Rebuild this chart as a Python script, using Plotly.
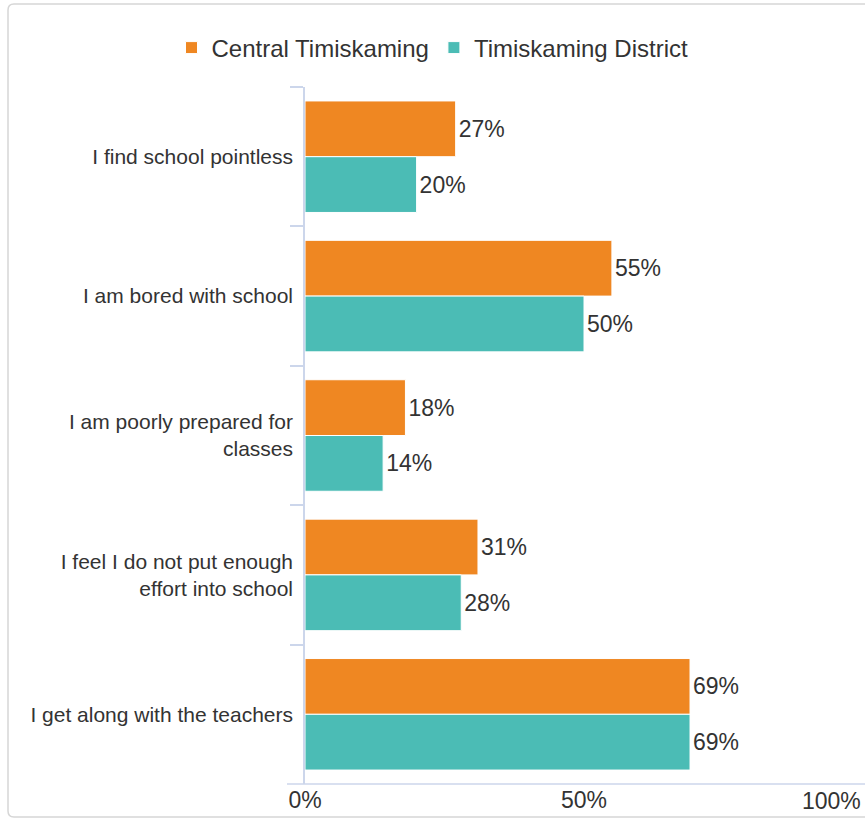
import plotly.graph_objects as go

categories = [
    "I find school pointless",
    "I am bored with school",
    "I am poorly prepared for<br>classes",
    "I feel I do not put enough<br>effort into school",
    "I get along with the teachers",
]
central = [27, 55, 18, 31, 69]
district = [20, 50, 14, 28, 69]
series_names = ["Central Timiskaming", "Timiskaming District"]
tick_vals = [0, 50]
tick_text = ["0%", "50%"]
last_tick_val = 100
last_tick_text = "100%"

W, H = 865, 821
L, R, T, B = 305, 2, 87, 37
pw, ph = W - L - R, H - T - B


def px2paper(x, y):
    return (x - L) / pw, (H - B - y) / ph


fig = go.Figure()
for name, vals, col in [(series_names[0], central, "#EF8722"),
                        (series_names[1], district, "#4BBCB5")]:
    fig.add_trace(go.Bar(
        y=categories, x=vals, name=name, orientation="h",
        marker=dict(color=col, line=dict(color="#ffffff", width=1)),
        text=[f"{v}%" for v in vals], textposition="outside",
        textfont=dict(size=23, color="#333333"),
        cliponaxis=False, hoverinfo="x+y+name",
    ))

# rounded border path
x0, y0 = px2paper(8, 4)
x1, y1 = px2paper(890, 817)
rx, ry = 6 / pw, 6 / ph
path = (f"M {x1},{y0} L {x0+rx},{y0} Q {x0},{y0} {x0},{y0-ry} "
        f"L {x0},{y1+ry} Q {x0},{y1} {x0+rx},{y1} L {x1},{y1}")
ax0, ay = px2paper(287, 784)
ax1, _ = px2paper(866, 784)

fig.update_layout(
    width=W, height=H, autosize=False,
    margin=dict(l=L, r=R, t=T, b=B),
    paper_bgcolor="white", plot_bgcolor="white",
    font=dict(family="Liberation Sans, Arial, sans-serif", color="#333333"),
    barmode="group", bargap=0.2, bargroupgap=0,
    showlegend=True,
    legend=dict(orientation="h", x=0.5, xanchor="center", xref="container",
                y=(H - 48) / H, yanchor="middle", yref="container",
                font=dict(size=24, color="#333333"),
                bgcolor="rgba(0,0,0,0)", itemclick=False, traceorder="normal"),
    xaxis=dict(range=[0, 100], tickvals=tick_vals, ticktext=tick_text,
               showgrid=False, zeroline=False, showline=False, ticks="",
               tickfont=dict(size=23, color="#333333"), fixedrange=True),
    yaxis=dict(autorange="reversed", type="category",
               tickson="boundaries", ticks="outside", ticklen=13,
               tickcolor="#ccd6eb", tickwidth=1.5,
               showline=True, linecolor="#ccd6eb", linewidth=1.5,
               showgrid=False, zeroline=False, ticklabelstandoff=6,
               tickfont=dict(size=21, color="#333333"), fixedrange=True),
    shapes=[
        dict(type="path", xref="paper", yref="paper", path=path,
             line=dict(color="#d6d6d6", width=1.5), layer="below"),
        dict(type="line", xref="paper", yref="paper", x0=ax0, x1=ax1,
             y0=ay, y1=ay, line=dict(color="#ccd6eb", width=1.5)),
    ],
    annotations=[
        dict(x=last_tick_val, xref="x", y=0, yref="paper", text=last_tick_text,
             xanchor="right", yanchor="top", showarrow=False, yshift=-2,
             font=dict(size=23, color="#333333")),
    ],
)

fig.write_html("out.html", config={"displayModeBar": False},
               post_script="document.body.style.margin='0';document.body.style.padding='0';")
